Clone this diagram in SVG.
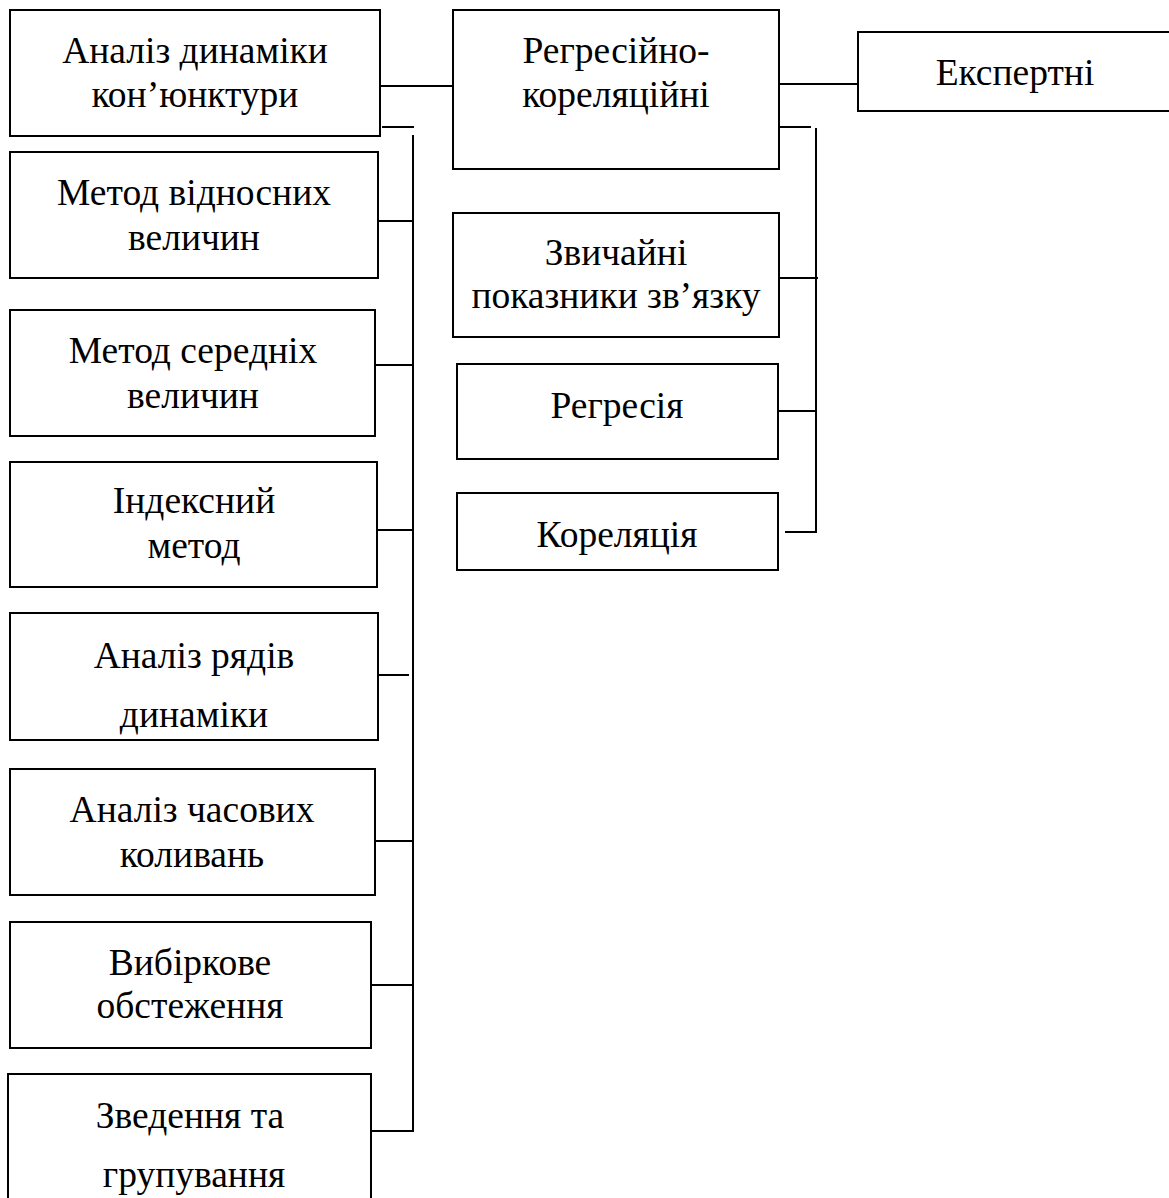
<svg xmlns="http://www.w3.org/2000/svg" width="1169" height="1198" viewBox="0 0 1169 1198">
<style>
.b{fill:#fff;stroke:#000;stroke-width:2}
.t{font-family:"Liberation Serif","Times New Roman",serif;font-size:37.5px;fill:#000;text-anchor:middle}
.c line{stroke:#000;stroke-width:2}
</style>
<rect width="1169" height="1198" fill="#fff"/>
<g class="c" id="connectors">
<line x1="380" y1="86" x2="453" y2="86"/>
<line x1="382" y1="127" x2="414" y2="127"/>
<line x1="413" y1="135" x2="413" y2="1132"/>
<line x1="378" y1="221" x2="413" y2="221"/>
<line x1="375" y1="365" x2="413" y2="365"/>
<line x1="377" y1="530" x2="413" y2="530"/>
<line x1="376" y1="675" x2="409" y2="675"/>
<line x1="375" y1="841" x2="413" y2="841"/>
<line x1="371" y1="985" x2="413" y2="985"/>
<line x1="371" y1="1131" x2="414" y2="1131"/>
<line x1="779" y1="84" x2="857" y2="84"/>
<line x1="779" y1="127" x2="811" y2="127"/>
<line x1="816" y1="128" x2="816" y2="533"/>
<line x1="779" y1="278" x2="818" y2="278"/>
<line x1="778" y1="411" x2="816" y2="411"/>
<line x1="785" y1="532" x2="816" y2="532"/>
</g>
<g id="n1"><rect class="b" x="10" y="10" width="370" height="126"/><text class="t" x="195" y="63">Аналіз динаміки</text><text class="t" x="195" y="107">кон’юнктури</text></g>
<g id="n2"><rect class="b" x="10" y="152" width="368" height="126"/><text class="t" x="194" y="205">Метод відносних</text><text class="t" x="194" y="250">величин</text></g>
<g id="n3"><rect class="b" x="10" y="310" width="365" height="126"/><text class="t" x="193" y="363">Метод середніх</text><text class="t" x="193" y="408">величин</text></g>
<g id="n4"><rect class="b" x="10" y="462" width="367" height="125"/><text class="t" x="194" y="513">Індексний</text><text class="t" x="194" y="558">метод</text></g>
<g id="n5"><rect class="b" x="10" y="613" width="368" height="127"/><text class="t" x="194" y="668">Аналіз рядів</text><text class="t" x="194" y="727">динаміки</text></g>
<g id="n6"><rect class="b" x="10" y="769" width="365" height="126"/><text class="t" x="192" y="822">Аналіз часових</text><text class="t" x="192" y="867">коливань</text></g>
<g id="n7"><rect class="b" x="10" y="922" width="361" height="126"/><text class="t" x="190" y="975">Вибіркове</text><text class="t" x="190" y="1018">обстеження</text></g>
<g id="n8"><rect class="b" x="8" y="1074" width="363" height="140"/><text class="t" x="190" y="1128">Зведення та</text><text class="t" x="194" y="1187">групування</text></g>
<g id="n9"><rect class="b" x="453" y="10" width="326" height="159"/><text class="t" x="616" y="63">Регресійно-</text><text class="t" x="616" y="107">кореляційні</text></g>
<g id="n10"><rect class="b" x="858" y="32" width="330" height="79"/><text class="t" x="1015" y="85">Експертні</text></g>
<g id="n11"><rect class="b" x="453" y="213" width="326" height="124"/><text class="t" x="616" y="265">Звичайні</text><text class="t" x="616" y="308">показники зв’язку</text></g>
<g id="n12"><rect class="b" x="457" y="364" width="321" height="95"/><text class="t" x="617" y="418">Регресія</text></g>
<g id="n13"><rect class="b" x="457" y="493" width="321" height="77"/><text class="t" x="617" y="547">Кореляція</text></g>
</svg>
